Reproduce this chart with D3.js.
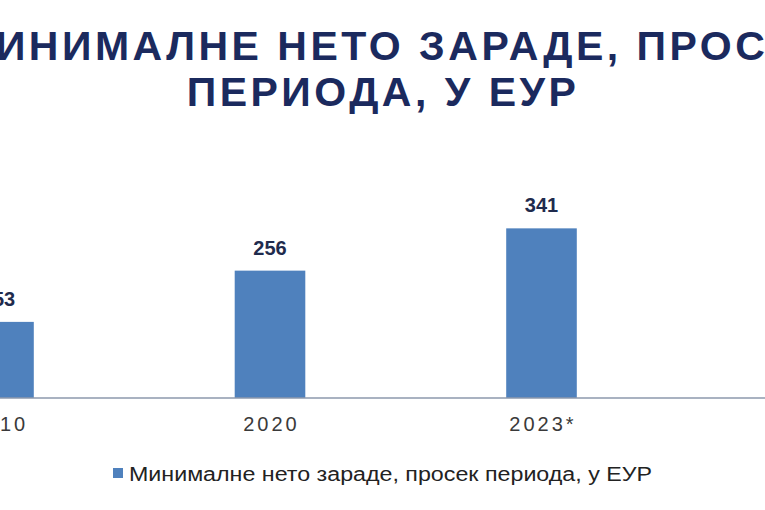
<!DOCTYPE html>
<html>
<head>
<meta charset="utf-8">
<script src="https://cdn.jsdelivr.net/npm/d3@7"></script>
<style>
    html, body { margin: 0; padding: 0; background: #ffffff; }
    svg { display: block; font-family: "Liberation Sans", Arial, sans-serif; }
    .title-text { font-weight: bold; fill: #1b2a5e; font-size: 41px; letter-spacing: 3.5px; }
    .val-text { font-weight: bold; fill: #1f2b4d; font-size: 20px; }
    .tick text { fill: #3a3a3a; font-size: 20px; letter-spacing: 3px; }
    .legend-text { fill: #222222; font-size: 20px; }
</style>
</head>
<body>
<div id="chart"></div>
<script>
// data
const categories = ["2010", "2020", "2023*"];
const values = [153, 256, 341];
const seriesName = "Минималне нето зараде, просек периода, у ЕУР";
const titleLines = ["МИНИМАЛНЕ НЕТО ЗАРАДЕ, ПРОСЕК", "ПЕРИОДА, У ЕУР"];

const W = 765, H = 510;
const barColor = "#4f81bd";

const svg = d3.select("#chart").append("svg")
    .attr("xmlns", "http://www.w3.org/2000/svg")
    .attr("width", W)
    .attr("height", H);

/* title: the picture is cropped, so line 1 runs past both edges */
const titleArea = svg.append("g");
titleArea.append("text")
    .attr("class", "title-text")
    .attr("x", 393).attr("y", 60)
    .attr("text-anchor", "middle")
    .text(titleLines[0]);
titleArea.append("text")
    .attr("class", "title-text")
    .attr("x", 383).attr("y", 106)
    .attr("text-anchor", "middle")
    .text(titleLines[1]);

/* scales - the plot area is wider than the crop */
const baseY = 398;
const xScale = d3.scaleBand()
    .domain(categories)
    .range([-137.25, 677.25])
    .paddingInner(0.74)
    .paddingOuter(0.37);

const yScale = d3.scaleLinear()
    .domain([0, 400])
    .range([baseY, 199]);

const dataset = categories.map((c, i) => ({ cat: c, y: values[i] }));

/* bars */
svg.append("g").attr("id", "bars")
    .selectAll("rect")
    .data(dataset)
    .join("rect")
    .attr("x", d => xScale(d.cat))
    .attr("y", d => yScale(d.y))
    .attr("width", xScale.bandwidth())
    .attr("height", d => baseY - yScale(d.y))
    .attr("fill", barColor);

/* value labels */
svg.append("g").attr("id", "vals")
    .selectAll("text")
    .data(dataset)
    .join("text")
    .attr("class", "val-text")
    .attr("x", d => xScale(d.cat) + xScale.bandwidth() / 2)
    .attr("y", d => yScale(d.y) - 16)
    .attr("text-anchor", "middle")
    .text(d => d.y);

/* x axis line runs across the whole crop */
svg.append("line")
    .attr("x1", 0).attr("x2", W)
    .attr("y1", baseY).attr("y2", baseY)
    .attr("stroke", "#8c99ad")
    .attr("stroke-width", 1.5);

const xAxisGroup = svg.append("g")
    .attr("id", "xaxis")
    .attr("transform", `translate(0, ${baseY})`)
    .call(d3.axisBottom(xScale).tickSize(0).tickPadding(19))
    .call(g => g.select(".domain").remove());
xAxisGroup.selectAll(".tick text")
    .attr("font-family", null)
    .attr("font-size", null)
    .attr("fill", null)
    .attr("dx", 1.5);

/* legend - the source stretches the legend glyphs sideways */
const legend = svg.append("g").attr("id", "legend");
legend.append("rect")
    .attr("x", 113).attr("y", 468)
    .attr("width", 10).attr("height", 10)
    .attr("fill", barColor);
legend.append("text")
    .attr("class", "legend-text")
    .attr("x", 129).attr("y", 481)
    .attr("textLength", 523)
    .attr("lengthAdjust", "spacingAndGlyphs")
    .text(seriesName);
</script>
</body>
</html>
